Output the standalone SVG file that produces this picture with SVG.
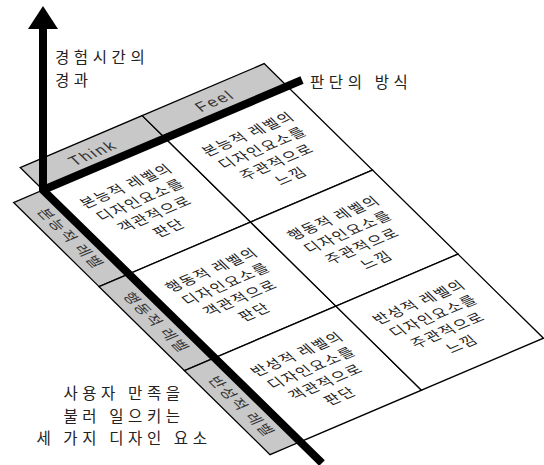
<svg xmlns="http://www.w3.org/2000/svg" width="544" height="465" viewBox="0 0 544 465">
<style>
.kr{font-family:"Noto Sans CJK KR","Noto Sans",sans-serif;fill:#222}
.cell text{font-size:15px;letter-spacing:1.5px;text-anchor:middle}
.band{fill:#c8c8c8;stroke:#000;stroke-width:1.3;vector-effect:non-scaling-stroke}
.ln{fill:#fff;stroke:#000;stroke-width:1.3;vector-effect:non-scaling-stroke}
.hdr{font-family:"Liberation Sans",Arial,sans-serif;font-size:16px;letter-spacing:1.8px;fill:#333;text-anchor:middle}
.lvl{font-size:15px;letter-spacing:1.8px;text-anchor:middle;fill:#333}
.lab{font-size:15.5px;letter-spacing:4.6px}
.axis{fill:none;stroke:#000;stroke-width:8;stroke-linejoin:miter}
</style>
<rect width="544" height="465" fill="#fff"/>
<g id="grid" transform="matrix(0.920,-0.392,0.713,0.701,43,190)">
  <g id="hdr-think"><rect class="band" x="0" y="-32" width="132.6" height="32"/><text class="hdr" x="66.3" y="-10.3">Think</text></g>
  <g id="hdr-feel"><rect class="band" x="132.6" y="-32" width="132.6" height="32"/><text class="hdr" x="198.9" y="-10.3">Feel</text></g>
  <g id="lvl-visceral"><rect class="band" x="-32" y="0" width="32" height="119.9"/><text class="kr lvl" transform="translate(-16,60) rotate(90)" y="5.7">본능적 레벨</text></g>
  <g id="lvl-behavioral"><rect class="band" x="-32" y="119.9" width="32" height="119.9"/><text class="kr lvl" transform="translate(-16,179.85) rotate(90)" y="5.7">행동적 레벨</text></g>
  <g id="lvl-reflective"><rect class="band" x="-32" y="239.8" width="32" height="119.9"/><text class="kr lvl" transform="translate(-16,299.75) rotate(90)" y="5.7">반성적 레벨</text></g>

  <g id="cell-think-visceral" class="cell"><rect class="ln" x="0" y="0" width="132.6" height="119.9"/>
    <g class="kr" transform="translate(66.3,59.95)"><text y="-23.3">본능적 레벨의</text><text y="-3.3">디자인요소를</text><text y="16.7">객관적으로</text><text y="36.7">판단</text></g></g>
  <g id="cell-feel-visceral" class="cell"><rect class="ln" x="132.6" y="0" width="132.6" height="119.9"/>
    <g class="kr" transform="translate(198.9,59.95)"><text y="-23.3">본능적 레벨의</text><text y="-3.3">디자인요소를</text><text y="16.7">주관적으로</text><text y="36.7">느낌</text></g></g>
  <g id="cell-think-behavioral" class="cell"><rect class="ln" x="0" y="119.9" width="132.6" height="119.9"/>
    <g class="kr" transform="translate(66.3,179.85)"><text y="-23.3">행동적 레벨의</text><text y="-3.3">디자인요소를</text><text y="16.7">객관적으로</text><text y="36.7">판단</text></g></g>
  <g id="cell-feel-behavioral" class="cell"><rect class="ln" x="132.6" y="119.9" width="132.6" height="119.9"/>
    <g class="kr" transform="translate(198.9,179.85)"><text y="-23.3">행동적 레벨의</text><text y="-3.3">디자인요소를</text><text y="16.7">주관적으로</text><text y="36.7">느낌</text></g></g>
  <g id="cell-think-reflective" class="cell"><rect class="ln" x="0" y="239.8" width="132.6" height="119.9"/>
    <g class="kr" transform="translate(66.3,299.75)"><text y="-23.3">반성적 레벨의</text><text y="-3.3">디자인요소를</text><text y="16.7">객관적으로</text><text y="36.7">판단</text></g></g>
  <g id="cell-feel-reflective" class="cell"><rect class="ln" x="132.6" y="239.8" width="132.6" height="119.9"/>
    <g class="kr" transform="translate(198.9,299.75)"><text y="-23.3">반성적 레벨의</text><text y="-3.3">디자인요소를</text><text y="16.7">주관적으로</text><text y="36.7">느낌</text></g></g>
</g>
<g id="connectors">
  <path class="axis" d="M43,28 L43,190 L322,463"/>
  <path class="axis" d="M43,190 L302,80"/>
  <polygon points="28,29 58,29 43,6" fill="#000"/>
</g>
<g id="label-time" class="kr lab"><text x="55" y="63">경험시간의</text><text x="55" y="85.5">경과</text></g>
<g id="label-judge" class="kr lab"><text x="310" y="88">판단의 방식</text></g>
<g id="label-title" class="kr lab" text-anchor="middle"><text x="124" y="399.3">사용자 만족을</text><text x="124" y="421.8">불러 일으키는</text><text x="124" y="444.3">세 가지 디자인 요소</text></g>
</svg>
